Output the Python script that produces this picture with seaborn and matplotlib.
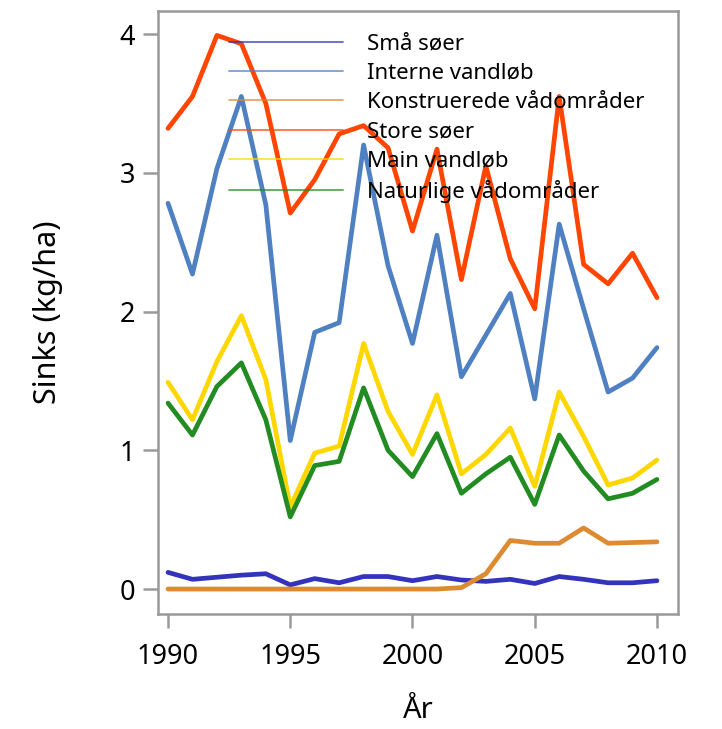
import pandas as pd
import matplotlib.pyplot as plt
import seaborn as sns

# data
years = list(range(1990, 2011))
sma_soer = [0.12, 0.07, 0.085, 0.10, 0.11, 0.03, 0.075, 0.045, 0.09, 0.09, 0.06,
            0.09, 0.065, 0.055, 0.07, 0.04, 0.09, 0.07, 0.045, 0.045, 0.06]
interne_vandlob = [2.78, 2.27, 3.03, 3.55, 2.77, 1.07, 1.85, 1.92, 3.20, 2.33, 1.77,
                   2.55, 1.53, 1.83, 2.13, 1.37, 2.63, 2.02, 1.42, 1.52, 1.74]
konstruerede = [0, 0, 0, 0, 0, 0, 0, 0, 0, 0, 0,
                0, 0.01, 0.11, 0.35, 0.33, 0.33, 0.44, 0.33, 0.335, 0.34]
store_soer = [3.32, 3.55, 3.99, 3.93, 3.50, 2.71, 2.95, 3.28, 3.34, 3.18, 2.58,
              3.17, 2.23, 3.05, 2.38, 2.02, 3.55, 2.34, 2.20, 2.42, 2.10]
main_vandlob = [1.49, 1.22, 1.64, 1.97, 1.51, 0.59, 0.98, 1.03, 1.77, 1.28, 0.97,
                1.40, 0.83, 0.97, 1.16, 0.74, 1.42, 1.10, 0.75, 0.80, 0.93]
naturlige = [1.34, 1.11, 1.46, 1.63, 1.22, 0.52, 0.89, 0.92, 1.45, 1.00, 0.81,
             1.12, 0.69, 0.83, 0.95, 0.61, 1.11, 0.85, 0.65, 0.69, 0.79]

series = {
    'Små søer': sma_soer,
    'Interne vandløb': interne_vandlob,
    'Konstruerede vådområder': konstruerede,
    'Store søer': store_soer,
    'Main vandløb': main_vandlob,
    'Naturlige vådområder': naturlige,
}
colors = ['#3333BB', '#4F81C2', '#DD8A30', '#FF4500', '#FFD700', '#228B22']

rows = []
for name, vals in series.items():
    for y, v in zip(years, vals):
        rows.append({'År': y, 'Sinks': v, 'Type': name})
df = pd.DataFrame(rows)

sns.set_style('ticks')
plt.rcParams['font.family'] = ['Noto Sans', 'DejaVu Sans']
plt.rcParams['text.color'] = 'black'
plt.rcParams['axes.labelcolor'] = 'black'

fig = plt.figure(figsize=(7.22, 7.29), dpi=100)
ax = fig.add_axes([158 / 722, 1 - 614 / 729, 520 / 722, 603 / 729])

sns.lineplot(data=df, x='År', y='Sinks', hue='Type', palette=colors,
             linewidth=3.4, ax=ax)

ax.set_xlim(1989.59, 2010.86)
ax.set_ylim(-0.18, 4.166)
ax.set_xticks([1990, 1995, 2000, 2005, 2010])
ax.set_yticks([0, 1, 2, 3, 4])
ax.tick_params(axis='both', direction='out', length=10.5, width=1.8,
               color='#999999', labelsize=19.5, labelcolor='black', pad=6)
ax.tick_params(axis='x', length=10, pad=11)
for sp in ax.spines.values():
    sp.set_visible(True)
    sp.set_color('#999999')
    sp.set_linewidth(1.8)

ax.set_xlabel('År', fontsize=21, labelpad=18)
ax.set_ylabel('Sinks (kg/ha)', fontsize=22, labelpad=41)

handles, labels = ax.get_legend_handles_labels()
for h in handles:
    h.set_linewidth(1.3)
    h.set_alpha(0.75)
ax.legend(handles, labels, loc='upper left', bbox_to_anchor=(0.12, 0.977),
          frameon=False, fontsize=16, handlelength=5.1, handletextpad=1.08,
          labelspacing=0.37, borderaxespad=0, labelcolor='black')

plt.savefig('out.png', dpi=100)
